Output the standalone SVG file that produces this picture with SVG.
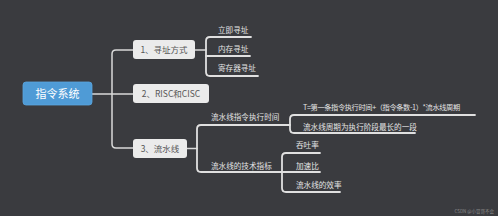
<svg xmlns="http://www.w3.org/2000/svg" width="498" height="216" viewBox="0 0 498 216">
<style>
.bg{fill:#3a3b3f}
.c{fill:none;stroke:#d9d9d9;stroke-width:1.5;stroke-linecap:round}
.u{fill:none;stroke:#e0e0e0;stroke-width:1.8;stroke-linecap:round}
.root{fill:#4f9bd6;stroke:#5aa6e0;stroke-width:0.8}
.root-t{fill:#ffffff;font-family:"Noto Sans CJK SC",sans-serif;font-size:11px}
.n{fill:#ebebeb}
.n-t{fill:#555555;font-family:"Noto Sans CJK SC",sans-serif;font-size:8.5px}
.l-t{fill:#e4e4e4;font-family:"Noto Sans CJK SC",sans-serif;font-size:7.6px}
.l-tn{font-size:7.2px;letter-spacing:-0.35px}
.wm{fill:#8a8a8a;font-family:"Noto Sans CJK SC",sans-serif;font-size:4.5px}
</style>
<rect class="bg" x="0" y="0" width="498" height="216"/>
<g id="connectors">
<path class="c" d="M92,94 H133"/>
<path class="c" d="M133,50 H116 Q112,50 112,54 V144 Q112,148 116,148 H133"/>
<path class="c" d="M195,50 H206"/>
<path class="u" d="M251,37 H210 Q206,37 206,41 V72 Q206,76 210,76 H258"/>
<path class="u" d="M206,56 H250"/>
<path class="c" d="M187,148.5 H197"/>
<path class="u" d="M290,125 H201 Q197,125 197,129 V168 Q197,172 201,172 H282"/>
<path class="u" d="M475,115 H294 Q290,115 290,119 V129 Q290,133 294,133 H415"/>
<path class="u" d="M320,153 H286 Q282,153 282,157 V188 Q282,192 286,192 H340"/>
<path class="u" d="M282,172 H320"/>
</g>
<g id="root">
<rect class="root" x="23" y="82" width="69" height="23" rx="3"/>
<text class="root-t" x="57.5" y="97.5" text-anchor="middle">指令系统</text>
</g>
<g id="n1">
<rect class="n" x="133" y="40" width="62" height="19" rx="3"/>
<text class="n-t" x="164" y="52.8" text-anchor="middle">1、寻址方式</text>
</g>
<g id="n2">
<rect class="n" x="133" y="84" width="76" height="19" rx="3"/>
<text class="n-t" x="171" y="96.8" text-anchor="middle">2、RISC和CISC</text>
</g>
<g id="n3">
<rect class="n" x="133" y="139" width="54" height="19" rx="3"/>
<text class="n-t" x="160" y="151.8" text-anchor="middle">3、流水线</text>
</g>
<g id="leaf-lijixunzhi"><text class="l-t" x="218" y="33">立即寻址</text></g>
<g id="leaf-neicunxunzhi"><text class="l-t" x="218" y="52">内存寻址</text></g>
<g id="leaf-jicunqixunzhi"><text class="l-t" x="218" y="71">寄存器寻址</text></g>
<g id="leaf-zhixingshijian"><text class="l-t" x="211" y="120">流水线指令执行时间</text></g>
<g id="leaf-jishuzhibiao"><text class="l-t" x="211" y="169">流水线的技术指标</text></g>
<g id="leaf-T"><text class="l-t l-tn" x="303" y="110">T=第一条指令执行时间+（指令条数-1）*流水线周期</text></g>
<g id="leaf-zhouqi"><text class="l-t" x="303" y="130">流水线周期为执行阶段最长的一段</text></g>
<g id="leaf-tuntulv"><text class="l-t" x="296" y="148">吞吐率</text></g>
<g id="leaf-jiasubi"><text class="l-t" x="296" y="169">加速比</text></g>
<g id="leaf-xiaolv"><text class="l-t" x="296" y="188">流水线的效率</text></g>
<text class="wm" x="494" y="213" text-anchor="end">CSDN @小冒哥不会</text>
</svg>
